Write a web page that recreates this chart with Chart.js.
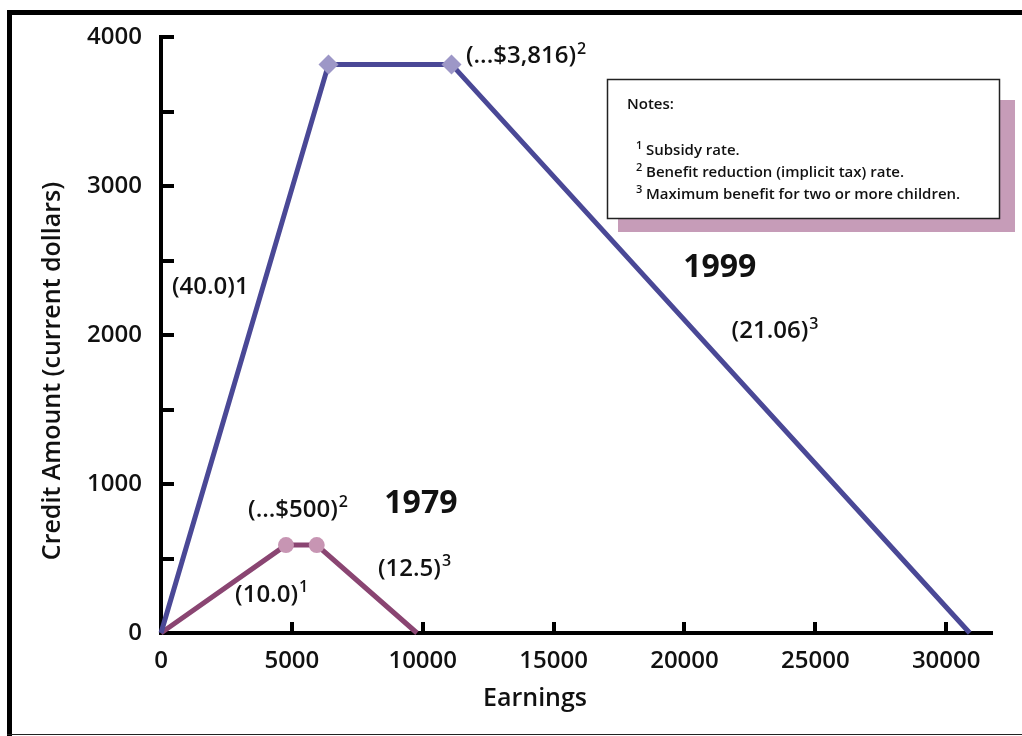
<!DOCTYPE html>
<html>
<head>
<meta charset="utf-8">
<title>Credit Amount by Earnings</title>
<script src="https://cdn.jsdelivr.net/npm/chart.js@4/dist/chart.umd.min.js"></script>
<style>
  html, body { margin: 0; padding: 0; background: #fff; }
  canvas { display: block; }
</style>
</head>
<body>
<canvas id="credit-chart" width="1022" height="736"></canvas>
<script>
// 1999 schedule (earnings, credit)
var earnings1999 = [0, 6400, 11100, 30900];
var credit1999 = [0, 3816, 3816, 0];
// 1979 schedule
var earnings1979 = [0, 4775, 5950, 9780];
var credit1979 = [0, 590, 590, 0];

var xMax = 31750;
var xStep = 5000;
var xTickValues = [0, 5000, 10000, 15000, 20000, 25000, 30000];
var yMax = 4000;
var yStep = 1000;
var yMinorStep = 500;

// text notes on the plot, placed in data units
var notes = [
  { text: '(...$3,816)', sup: '2', x: 11650, y: 3870, bold: false, align: 'left' },
  { text: '1999', sup: '', x: 21350, y: 2450, bold: true, align: 'center' },
  { text: '(21.06)', sup: '3', x: 21800, y: 2025, bold: false, align: 'left' },
  { text: '(40.0)1', sup: '', x: 420, y: 2320, bold: false, align: 'left' },
  { text: '(...$500)', sup: '2', x: 3325, y: 825, bold: false, align: 'left' },
  { text: '1979', sup: '', x: 9930, y: 865, bold: true, align: 'center' },
  { text: '(12.5)', sup: '3', x: 8290, y: 430, bold: false, align: 'left' },
  { text: '(10.0)', sup: '1', x: 2830, y: 255, bold: false, align: 'left' }
];

var legendLines = [
  { sup: '1', text: 'Subsidy rate.' },
  { sup: '2', text: 'Benefit reduction (implicit tax) rate.' },
  { sup: '3', text: 'Maximum benefit for two or more children.' }
];

var FONT = "'Open Sans', sans-serif";
Chart.defaults.font.family = FONT;
Chart.defaults.color = '#111';

function toPoints(xs, ys) {
  var out = [];
  for (var i = 0; i < xs.length; i++) out.push({ x: xs[i], y: ys[i] });
  return out;
}

// page frame drawn under everything
var framePlugin = {
  id: 'frame',
  beforeDraw: function (chart) {
    var ctx = chart.ctx;
    ctx.save();
    ctx.fillStyle = '#000';
    ctx.fillRect(7, 10, 1015, 5);
    ctx.fillRect(7, 10, 5, 726);
    ctx.fillStyle = '#222';
    ctx.fillRect(7, 734, 1015, 1);
    ctx.restore();
  }
};

// tick marks point into the plot, so they are drawn by hand from the scales
var tickPlugin = {
  id: 'inwardTicks',
  beforeDatasetsDraw: function (chart) {
    var ctx = chart.ctx;
    var xs = chart.scales.x;
    var ys = chart.scales.y;
    var area = chart.chartArea;
    ctx.save();
    ctx.strokeStyle = '#000';
    ctx.lineWidth = 4;
    ctx.beginPath();
    for (var v = yMinorStep; v <= yMax; v += yMinorStep) {
      var py = Math.round(ys.getPixelForValue(v));
      ctx.moveTo(area.left - 2, py);
      ctx.lineTo(area.left + 13, py);
    }
    xTickValues.forEach(function (xv) {
      if (xv === 0) return;
      var px = Math.round(xs.getPixelForValue(xv));
      ctx.moveTo(px, area.bottom);
      ctx.lineTo(px, area.bottom - 11);
    });
    ctx.stroke();

    // axis titles
    ctx.fillStyle = '#111';
    ctx.font = '600 25px ' + FONT;
    ctx.textAlign = 'center';
    ctx.textBaseline = 'middle';
    ctx.fillText('Earnings', 535, 699);
    ctx.translate(53, 371);
    ctx.rotate(-Math.PI / 2);
    ctx.fillText('Credit Amount (current dollars)', 0, 0);
    ctx.restore();
  }
};

function drawSupText(ctx, text, sup, x, y, size, supSize, align) {
  ctx.font = '600 ' + size + 'px ' + FONT;
  var w = ctx.measureText(text).width;
  ctx.font = '600 ' + supSize + 'px ' + FONT;
  var sw = sup ? ctx.measureText(sup).width + 1 : 0;
  var left = align === 'center' ? x - (w + sw) / 2 : x;
  ctx.textAlign = 'left';
  ctx.textBaseline = 'middle';
  ctx.font = '600 ' + size + 'px ' + FONT;
  ctx.fillText(text, left, y);
  if (sup) {
    ctx.font = '600 ' + supSize + 'px ' + FONT;
    ctx.fillText(sup, left + w + 1, y - size * 0.3);
  }
}

var notesPlugin = {
  id: 'notes',
  afterDraw: function (chart) {
    var ctx = chart.ctx;
    var xs = chart.scales.x;
    var ys = chart.scales.y;
    ctx.save();
    ctx.fillStyle = '#111';
    notes.forEach(function (n) {
      var px = xs.getPixelForValue(n.x);
      var py = ys.getPixelForValue(n.y);
      if (n.bold) {
        ctx.font = '700 32px ' + FONT;
        ctx.textAlign = n.align;
        ctx.textBaseline = 'middle';
        ctx.fillText(n.text, px, py);
      } else {
        drawSupText(ctx, n.text, n.sup, px, py, 24, 16, n.align);
      }
    });

    // notes box with its shadow
    ctx.fillStyle = '#c69cb8';
    ctx.fillRect(618, 100, 397, 132);
    ctx.fillStyle = '#fff';
    ctx.fillRect(607, 79, 393, 140);
    ctx.strokeStyle = '#222';
    ctx.lineWidth = 1.5;
    ctx.strokeRect(607.5, 79.5, 392, 139);

    ctx.fillStyle = '#111';
    ctx.font = '600 15px ' + FONT;
    ctx.textAlign = 'left';
    ctx.textBaseline = 'alphabetic';
    ctx.fillText('Notes:', 627, 109);
    legendLines.forEach(function (l, i) {
      var by = 155 + i * 22;
      ctx.font = '600 11px ' + FONT;
      ctx.fillText(l.sup, 636, by - 6);
      ctx.font = '600 15px ' + FONT;
      ctx.fillText(l.text, 646, by);
    });
    ctx.restore();
  }
};

var chartContext = document.getElementById('credit-chart');
var chart = new Chart(chartContext, {
  type: 'line',
  data: {
    datasets: [
      {
        label: '1999',
        data: toPoints(earnings1999, credit1999),
        borderColor: '#4a4896',
        borderWidth: 5,
        pointStyle: 'rectRot',
        pointRadius: [0, 10, 10, 0],
        pointBackgroundColor: '#9d97c7',
        pointBorderWidth: 0,
        tension: 0,
        clip: false
      },
      {
        label: '1979',
        data: toPoints(earnings1979, credit1979),
        borderColor: '#8a4572',
        borderWidth: 5,
        pointStyle: 'circle',
        pointRadius: [0, 8, 8, 0],
        pointBackgroundColor: '#c795b3',
        pointBorderWidth: 0,
        tension: 0,
        clip: false
      }
    ]
  },
  options: {
    responsive: false,
    animation: false,
    layout: { padding: { top: 37, right: 30, left: 0, bottom: 0 } },
    plugins: {
      legend: { display: false },
      tooltip: { enabled: false }
    },
    scales: {
      x: {
        type: 'linear',
        min: 0,
        max: xMax,
        afterFit: function (s) { s.height = 103; },
        afterBuildTicks: function (s) {
          s.ticks = xTickValues.map(function (v) { return { value: v }; });
        },
        ticks: {
          padding: 14,
          maxRotation: 0,
          autoSkip: false,
          font: { size: 24, weight: '600' },
          color: '#111',
          callback: function (v) { return String(v); }
        },
        grid: { display: true, drawOnChartArea: false, drawTicks: false },
        border: { color: '#000', width: 4 }
      },
      y: {
        type: 'linear',
        min: 0,
        max: yMax,
        afterFit: function (s) { s.width = 161; },
        ticks: {
          stepSize: yStep,
          padding: 19,
          font: { size: 24, weight: '600' },
          color: '#111',
          callback: function (v) { return String(v); }
        },
        grid: { display: true, drawOnChartArea: false, drawTicks: false },
        border: { color: '#000', width: 4 }
      }
    }
  },
  plugins: [framePlugin, tickPlugin, notesPlugin]
});
</script>
</body>
</html>
